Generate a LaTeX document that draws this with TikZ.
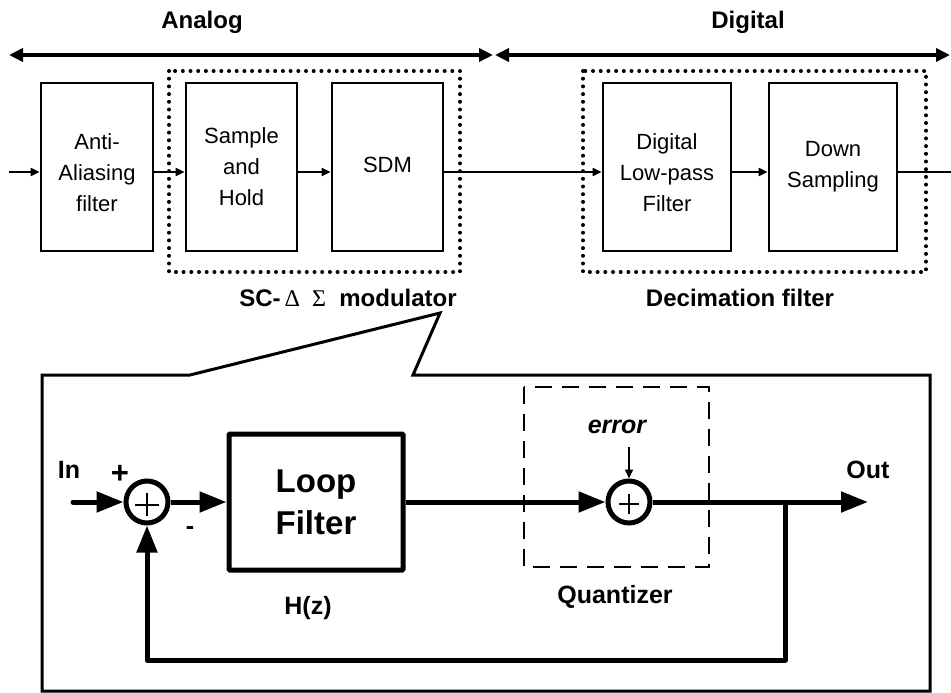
\documentclass[tikz,border=0pt]{standalone}
\usepackage{fontspec}
\setmainfont{Liberation Sans}
\newfontfamily\symf{Liberation Serif}
\usetikzlibrary{arrows.meta}
\begin{document}
\begin{tikzpicture}[x=1pt,y=-1pt,
  blk/.style={draw, line width=2.8pt, minimum height=168pt, inner sep=0pt, align=center, font=\fontsize{22}{31}\selectfont},
  sig/.style={line width=2pt, -{Triangle[length=9pt,width=8pt]}},
  grp/.style={line width=4pt, dash pattern=on 0pt off 7.7pt, line cap=round},
  rng/.style={line width=3.5pt, {Triangle[length=14pt,width=13pt]}-{Triangle[length=14pt,width=13pt]}},
  blab/.style={font=\bfseries\fontsize{24}{28}\selectfont, inner sep=0pt},
  fat/.style={line width=5pt, line join=round, -{Triangle[length=27pt,width=20pt]}},
  sumc/.style={circle, draw, line width=5pt, minimum size=42pt, inner sep=0pt},
  lab/.style={font=\bfseries\fontsize{25}{30}\selectfont, inner sep=0pt},
  plusln/.style={line width=1.4pt}
]
\useasboundingbox (0,0) rectangle (951,693);

% ---- range arrows
\coordinate (aL) at (9,55);
\coordinate (aR) at (493,55);
\coordinate (dL) at (495,55);
\coordinate (dR) at (950,55);
\draw[rng] (aL) -- (aR);
\draw[rng] (dL) -- (dR);
\node[blab] (analog) at (202,22) {Analog};
\node[blab] (digital) at (748,22) {Digital};

% ---- group boxes
\draw[grp] (169,71) rectangle (460,272);
\draw[grp] (583,71) rectangle (926,272);
\node[blab] (sclab) at (348,298) {SC-{\mdseries\symf\,Δ\ \ Σ}\ \ modulator};
\node[blab] (declab) at (740,298) {Decimation filter};

% ---- top blocks
\node[blk, minimum width=112pt] (aa) at (97,167) {\rule{0pt}{28pt}Anti-\\Aliasing\\filter};
\node[blk, minimum width=111pt] (sh) at (241.5,167) {Sample\\and\\Hold};
\node[blk, minimum width=111pt] (sdm) at (387.5,167) {\raisebox{4pt}{SDM}};
\node[blk, minimum width=128pt] (lpf) at (667,167) {\rule{0pt}{28pt}Digital\\Low-pass\\Filter};
\node[blk, minimum width=128pt] (ds) at (833,167) {Down\\Sampling};

\coordinate (tin) at (9,172);
\coordinate (tout) at (951,172);
\draw[sig] (tin) -- (aa.west |- tin);
\draw[sig] (aa.east |- tin) -- (sh.west |- tin);
\draw[sig] (sh.east |- tin) -- (sdm.west |- tin);
\draw[sig] (sdm.east |- tin) -- (lpf.west |- tin);
\draw[sig] (lpf.east |- tin) -- (ds.west |- tin);
\draw[line width=2pt] (ds.east |- tin) -- (tout);

% ---- callout frame
\draw[line width=3pt, line join=miter] (42,375) -- (190,375) -- (440,313) -- (413,375) -- (930,375) -- (930,691) -- (42,691) -- cycle;

% ---- quantizer box
\draw[line width=2.5pt, dash pattern=on 17pt off 10pt] (524,387) rectangle (709,567);
\node[lab] (qlab) at (615,597) {Quantizer};

% ---- loop
\node[sumc] (s1) at (147,502) {};
\node[sumc] (s2) at (629,502) {};
\draw[plusln] ([xshift=-12pt,yshift=-3pt]s1.center) -- ([xshift=12pt,yshift=-3pt]s1.center);
\draw[plusln] ([yshift=-14pt]s1.center) -- ([yshift=9pt]s1.center);
\draw[plusln] ([xshift=-10pt,yshift=-2pt]s2.center) -- ([xshift=10pt,yshift=-2pt]s2.center);
\draw[plusln] ([yshift=-12pt]s2.center) -- ([yshift=8pt]s2.center);

\node[draw, line width=5pt, rounded corners=1pt, minimum width=174pt, minimum height=136pt, inner sep=0pt,
      align=center, font=\bfseries\fontsize{33}{42}\selectfont] (lf) at (316,502) {Loop\\Filter};
\node[lab] (hz) at (308,608) {H(z)};

\coordinate (lin) at (73,502);
\coordinate (br) at (785,502);
\coordinate (fb) at (785,660);
\coordinate (lout) at (868,502);
\coordinate (eIn) at (629,447);

\draw[fat, line cap=round] (lin) -- (s1.west);
\draw[fat] (s1.east) -- (lf.west);
\draw[fat] (lf.east) -- (s2.west);
\draw[fat] (s2.east) -- (lout);
\draw[fat] (br) -- (fb) -| (s1.south);
\draw[sig] (eIn) -- (s2.north);

\node[lab] (inlab) at (69,470) {In};
\node[lab, font=\bfseries\fontsize{31}{34}\selectfont] (plab) at (120,474) {+};
\node[lab] (mlab) at (190,531) {-};
\node[lab] (outlab) at (868,470) {Out};
\node[lab, font=\bfseries\itshape\fontsize{25}{30}\selectfont] (errlab) at (617,427) {error};
\end{tikzpicture}
\end{document}
